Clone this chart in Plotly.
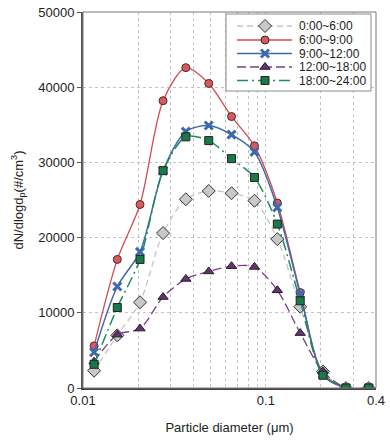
import plotly.graph_objects as go

diam = [0.0115, 0.0154, 0.0205, 0.0274, 0.0365, 0.0487, 0.0649, 0.0866, 0.1155, 0.154, 0.205, 0.274, 0.365]

s_0_6 = [2300, 7000, 11400, 20600, 25100, 26200, 25900, 24900, 19800, 10800, 2200, 0, 0]
s_6_9 = [5600, 17100, 24400, 38200, 42600, 40500, 36100, 32200, 24600, 12700, 1900, 0, 0]
s_9_12 = [4750, 13500, 18100, 28900, 34100, 34900, 33700, 31400, 24000, 12500, 1800, 0, 0]
s_12_18 = [3500, 7100, 7900, 12100, 14500, 15500, 16200, 16100, 13000, 7300, 2200, 0, 0]
s_18_24 = [3150, 10700, 17100, 28900, 33400, 32900, 30500, 28000, 21800, 11600, 1700, 0, 0]

names = ["0:00~6:00", "6:00~9:00", "9:00~12:00", "12:00~18:00", "18:00~24:00"]

x_tickvals = [0.01, 0.1, 0.4]
x_ticktext = ["0.01", "0.1", "0.4"]
x_minor_vals = [0.02, 0.03, 0.04, 0.05, 0.06, 0.07, 0.08, 0.09, 0.2, 0.3]
y_tickvals = [0, 10000, 20000, 30000, 40000, 50000]
y_ticktext = ["0", "10000", "20000", "30000", "40000", "50000"]

styles = [
    dict(line=dict(color="#c4c4c4", width=1.3, dash="6px,4px"),
         marker=dict(symbol="diamond", size=10, color="#c8c8c8", line=dict(color="#333333", width=1))),
    dict(line=dict(color="#d24b4f", width=1.3),
         marker=dict(symbol="circle", size=8, color="#e0575a", line=dict(color="#333333", width=1))),
    dict(line=dict(color="#3d68ad", width=1.5),
         marker=dict(symbol="x-thin", size=8, color="#3d68ad", line=dict(color="#3d68ad", width=3))),
    dict(line=dict(color="#7a3f88", width=1.3, dash="9px,4px"),
         marker=dict(symbol="triangle-up", size=9, color="#6a2f78", line=dict(color="#222222", width=1))),
    dict(line=dict(color="#208a58", width=1.5, dash="11px,4px,2px,4px"),
         marker=dict(symbol="square", size=8, color="#187a48", line=dict(color="#222222", width=1))),
]

fig = go.Figure()
for name, ys, st in zip(names, [s_0_6, s_6_9, s_9_12, s_12_18, s_18_24], styles):
    fig.add_trace(go.Scatter(
        x=diam, y=ys, name=name, mode="lines+markers", showlegend=False,
        line=dict(shape="spline", smoothing=0.8, **st["line"]),
        marker=st["marker"],
    ))

# ---- custom legend (drawn on a pixel-coordinate overlay axis) ----
leg_box = dict(x0=226, x1=371, y0=14, y1=91)
leg_rows = [26, 40, 53.5, 67, 80.5]
leg_line_x = [237, 292]
leg_marker_x = 265
leg_text_x = 297

fig.add_trace(go.Scatter(
    x=[leg_box["x0"], leg_box["x1"], leg_box["x1"], leg_box["x0"], leg_box["x0"]],
    y=[leg_box["y0"], leg_box["y0"], leg_box["y1"], leg_box["y1"], leg_box["y0"]],
    xaxis="x2", yaxis="y2", mode="lines", fill="toself", fillcolor="white",
    line=dict(color="#8a8a8a", width=1), showlegend=False, hoverinfo="skip",
))
annotations = []
for name, row, st in zip(names, leg_rows, styles):
    fig.add_trace(go.Scatter(
        x=leg_line_x, y=[row, row], xaxis="x2", yaxis="y2", mode="lines",
        line=st["line"], showlegend=False, hoverinfo="skip",
    ))
    fig.add_trace(go.Scatter(
        x=[leg_marker_x], y=[row], xaxis="x2", yaxis="y2", mode="markers",
        marker=st["marker"], showlegend=False, hoverinfo="skip",
    ))
    annotations.append(dict(
        x=leg_text_x, y=row, xref="x2", yref="y2", text=name, showarrow=False,
        xanchor="left", yanchor="middle", font=dict(size=12, color="#222222"),
    ))

font_family = "Liberation Sans, Arial, Helvetica, sans-serif"

fig.update_layout(
    width=390, height=444,
    margin=dict(l=83, r=14, t=12, b=56),
    paper_bgcolor="white", plot_bgcolor="white",
    font=dict(family=font_family, size=13, color="#222222"),
    showlegend=False,
    annotations=annotations,
    xaxis=dict(
        type="log", range=[-2, -0.39794], automargin=False,
        tickmode="array", tickvals=x_tickvals, ticktext=x_ticktext,
        showgrid=True, gridcolor="#c4c4c4", griddash="dot", gridwidth=1,
        minor=dict(tickmode="array", tickvals=x_minor_vals, showgrid=True,
                   gridcolor="#c4c4c4", griddash="dot", gridwidth=1, ticks=""),
        showline=True, linecolor="#444444", linewidth=1.5, mirror=False,
        ticks="", zeroline=False,
        title=dict(text="Particle diameter (μm)", font=dict(size=13), standoff=16),
        tickfont=dict(size=13),
    ),
    yaxis=dict(
        range=[0, 50000], tickvals=y_tickvals, ticktext=y_ticktext, automargin=False,
        showgrid=True, gridcolor="#c4c4c4", griddash="dot", gridwidth=1,
        showline=True, linecolor="#555555", linewidth=2,
        ticks="outside", ticklen=4, tickcolor="#555555",
        zeroline=False,
        title=dict(text="dN/dlogd<sub>p</sub>(#/cm<sup>3</sup>)", font=dict(size=13), standoff=12),
        tickfont=dict(size=13),
    ),
    xaxis2=dict(overlaying="x", range=[83, 376], visible=False, fixedrange=True),
    yaxis2=dict(overlaying="y", range=[388, 12], visible=False, fixedrange=True),
    shapes=[
        dict(type="rect", xref="paper", yref="paper", x0=0, y0=0, x1=1, y1=1,
             line=dict(color="#777777", width=1), fillcolor="rgba(0,0,0,0)", layer="above"),
    ],
)

fig.write_html("out.html", config={"displayModeBar": False},
               post_script="document.body.style.margin='0';")
